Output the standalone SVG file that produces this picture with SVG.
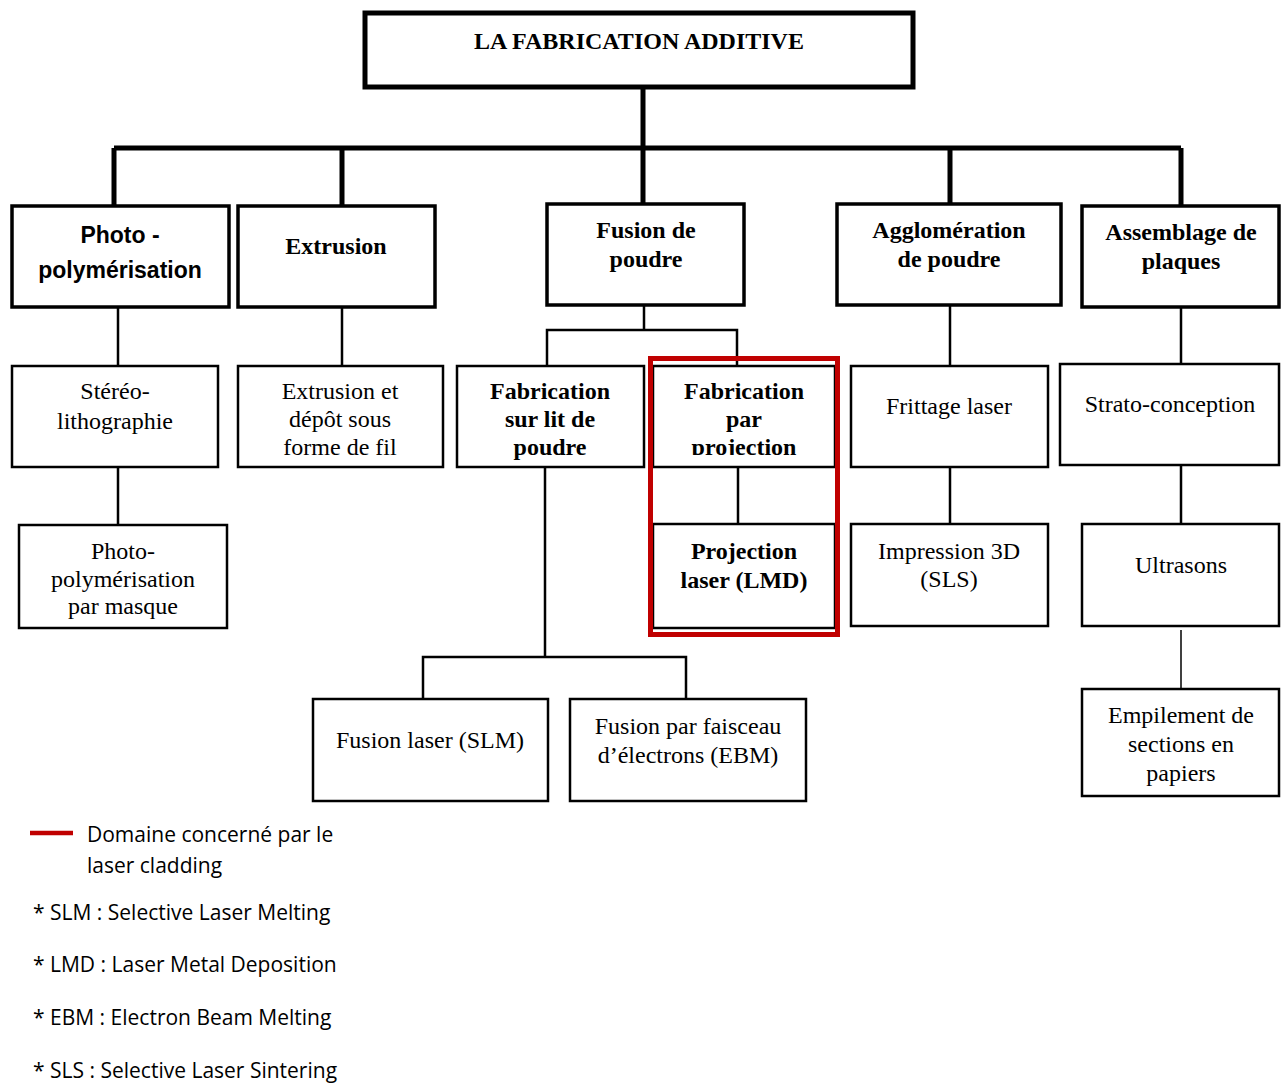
<svg xmlns="http://www.w3.org/2000/svg" width="1285" height="1084" viewBox="0 0 1285 1084">
<style>
.bg{fill:#fff}
.b1{fill:#fff;stroke:#000;stroke-width:3.5}
.b2{fill:#fff;stroke:#000;stroke-width:2.5}
.c1{fill:none;stroke:#000;stroke-width:5}
.c2{fill:none;stroke:#000;stroke-width:2.5}
.c3{fill:none;stroke:#000;stroke-width:1.5}
.tb{font-family:"Liberation Serif","Times New Roman",serif;font-weight:bold;font-size:24px;fill:#000;text-anchor:middle}
.tr{font-family:"Liberation Serif","Times New Roman",serif;font-size:24px;fill:#000;text-anchor:middle}
.ts{font-family:"Liberation Sans",Arial,sans-serif;font-weight:bold;font-size:23px;fill:#000;text-anchor:middle}
.tl{font-family:"Open Sans","Liberation Sans",Arial,sans-serif;font-size:21px;fill:#000}
.red{fill:none;stroke:#c00000;stroke-width:5}
</style>
<defs>
<clipPath id="clipProj"><rect x="653" y="366" width="182" height="89"/></clipPath>
</defs>
<rect class="bg" x="0" y="0" width="1285" height="1084"/>

<g id="connectors">
<path class="c1" d="M643 87V148M114 148H1181M114 148V206M342 148V206M643 148V204M950 148V204M1181 148V206"/>
<path class="c2" d="M118 307V366M342 307V366M644 305V330M547 366V330H737V366M118 467V525M545 467V657M423 699V657H686V699M738 467V524M950 305V366M950 467V524M1181 307V364M1181 465V524"/>
<path class="c3" d="M1181 630V689"/>
</g>

<g id="n-root"><rect x="365" y="13" width="548" height="74" fill="#fff" stroke="#000" stroke-width="5"/>
<text class="tb" x="639" y="49">LA FABRICATION ADDITIVE</text></g>

<g id="n-photo"><rect class="b1" x="12" y="206" width="217" height="101"/>
<text class="ts" x="120" y="243">Photo -</text><text class="ts" x="120" y="278">polymérisation</text></g>
<g id="n-extrusion"><rect class="b1" x="238" y="206" width="197" height="101"/>
<text class="tb" x="336" y="254">Extrusion</text></g>
<g id="n-fusion"><rect class="b1" x="547" y="204" width="197" height="101"/>
<text class="tb" x="646" y="238">Fusion de</text><text class="tb" x="646" y="267">poudre</text></g>
<g id="n-agglo"><rect class="b1" x="837" y="204" width="224" height="101"/>
<text class="tb" x="949" y="238">Agglomération</text><text class="tb" x="949" y="267">de poudre</text></g>
<g id="n-assemblage"><rect class="b1" x="1082" y="206" width="197" height="101"/>
<text class="tb" x="1181" y="240">Assemblage de</text><text class="tb" x="1181" y="269">plaques</text></g>

<g id="n-stereo"><rect class="b2" x="12" y="366" width="206" height="101"/>
<text class="tr" x="115" y="399">Stéréo-</text><text class="tr" x="115" y="429">lithographie</text></g>
<g id="n-extfil"><rect class="b2" x="238" y="366" width="205" height="101"/>
<text class="tr" x="340" y="399">Extrusion et</text><text class="tr" x="340" y="427">dépôt sous</text><text class="tr" x="340" y="455">forme de fil</text></g>
<g id="n-lit"><rect class="b2" x="457" y="366" width="187" height="101"/>
<text class="tb" x="550" y="399">Fabrication</text><text class="tb" x="550" y="427">sur lit de</text><text class="tb" x="550" y="455">poudre</text></g>
<g id="n-projection"><rect class="b2" x="653" y="366" width="182" height="101"/>
<g clip-path="url(#clipProj)"><text class="tb" x="744" y="399">Fabrication</text><text class="tb" x="744" y="427">par</text><text class="tb" x="744" y="455">projection</text></g></g>
<g id="n-lmd"><rect class="b2" x="653" y="524" width="182" height="104"/>
<text class="tb" x="744" y="559">Projection</text><text class="tb" x="744" y="588">laser (LMD)</text></g>
<g id="n-frittage"><rect class="b2" x="851" y="366" width="197" height="101"/>
<text class="tr" x="949" y="414">Frittage laser</text></g>
<g id="n-sls"><rect class="b2" x="851" y="524" width="197" height="102"/>
<text class="tr" x="949" y="559">Impression 3D</text><text class="tr" x="949" y="587">(SLS)</text></g>
<g id="n-strato"><rect class="b2" x="1060" y="364" width="219" height="101"/>
<text class="tr" x="1170" y="412">Strato-conception</text></g>
<g id="n-ultrasons"><rect class="b2" x="1082" y="524" width="197" height="102"/>
<text class="tr" x="1181" y="573">Ultrasons</text></g>
<g id="n-empilement"><rect class="b2" x="1082" y="689" width="197" height="107"/>
<text class="tr" x="1181" y="723">Empilement de</text><text class="tr" x="1181" y="752">sections en</text><text class="tr" x="1181" y="781">papiers</text></g>
<g id="n-masque"><rect class="b2" x="19" y="525" width="208" height="103"/>
<text class="tr" x="123" y="559">Photo-</text><text class="tr" x="123" y="587">polymérisation</text><text class="tr" x="123" y="614">par masque</text></g>
<g id="n-slm"><rect class="b2" x="313" y="699" width="235" height="102"/>
<text class="tr" x="430" y="748">Fusion laser (SLM)</text></g>
<g id="n-ebm"><rect class="b2" x="570" y="699" width="236" height="102"/>
<text class="tr" x="688" y="734">Fusion par faisceau</text><text class="tr" x="688" y="763">d’électrons (EBM)</text></g>

<rect id="highlight" class="red" x="650.5" y="358.5" width="187" height="276"/>

<g id="legend">
<line x1="30" y1="833" x2="73" y2="833" stroke="#c00000" stroke-width="4.5"/>
<text class="tl" x="87" y="842">Domaine concerné par le</text>
<text class="tl" x="87" y="873">laser cladding</text>
<text class="tl" x="33" y="920">* SLM : Selective Laser Melting</text>
<text class="tl" x="33" y="972">* LMD : Laser Metal Deposition</text>
<text class="tl" x="33" y="1025">* EBM : Electron Beam Melting</text>
<text class="tl" x="33" y="1078">* SLS : Selective Laser Sintering</text>
</g>
</svg>
